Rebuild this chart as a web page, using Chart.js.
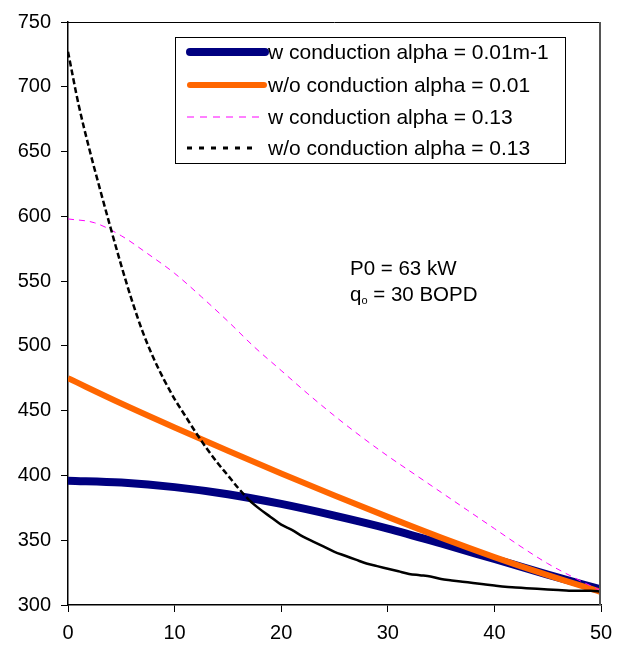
<!DOCTYPE html>
<html>
<head>
<meta charset="utf-8">
<script src="https://cdn.jsdelivr.net/npm/chart.js@4/dist/chart.umd.min.js"></script>
<style>
html,body{margin:0;padding:0;background:#fff;}
#wrap{width:629px;height:650px;position:relative;}
</style>
</head>
<body>
<div id="wrap"><canvas id="c" width="629" height="650"></canvas></div>
<script>
// ---- data ----
const xNavy = [0,5,10,15,20,25,30,35,40,45,50];
const yNavy = [396,394.5,391,385.5,378,369,359,347.5,335.5,323.5,312];

const xOrange = [0,5,10,15,20,25,30,35,40,45,50];
const yOrange = [475,455.5,437,419,401.5,384.5,368,352,337,323,310];

const xMagenta = [0,2.5,5,7.5,10,12.5,15,17.5,20,22.5,25,27.5,30,32.5,35,37.5,40,42.5,45,47.5,50];
const yMagenta = [598,595,585,571,556,538,519,499,481,463,446,430,415,401,387,373,359,345,332,321,311];

const xBlack = [0,1,2,3,4,5,6,7,8,9,10,11,12,13,14,15,16,17,18,19,20,21,22,23,24,25,26,27,28,29,30,31,32,33,34,35,36,37,38,39,40,41,42,43,44,45,46,47,48,49,50];
const yBlack = [727,686,652,621,591,562,535,511,491,474,459,446,433,421,410,400,390,381,374,368,362,358,353,349,345,341,338,335,332,330,328,326,324,323,322,320,319,318,317,316,315,314,313.5,313,312.5,312,311.5,311,311,311,310.5];

const seriesLabels = [
  "w conduction alpha = 0.01m-1",
  "w/o conduction alpha = 0.01",
  "w conduction alpha = 0.13",
  "w/o conduction alpha = 0.13"
];
const xTicks = [0,10,20,30,40,50];
const yTicks = [300,350,400,450,500,550,600,650,700,750];
const noteLine1 = "P0 = 63 kW";
const noteQ = "q";
const noteSub = "o";
const noteRest = " = 30 BOPD";

function pts(xs, ys){ return xs.map((x,i)=>({x:x,y:ys[i]})); }

const FONT = "'Liberation Sans', Arial, Helvetica, sans-serif";

const legendStyles = [
  {color:'#000080', width:8, dash:[], cap:'round', x2:265},
  {color:'#FF6600', width:6, dash:[], cap:'round', x2:264},
  {color:'#FF00FF', width:1, dash:[7,6], cap:'butt', x2:261},
  {color:'#000000', width:3, dash:[5,7], cap:'butt', x2:258}
];

const decor = {
  id:'decor',
  afterDatasetsDraw(chart){
    const ctx = chart.ctx;
    const a = chart.chartArea;
    ctx.save();
    // top and right frame
    ctx.strokeStyle = '#000';
    ctx.lineWidth = 1;
    ctx.beginPath();
    ctx.moveTo(a.left, a.top+0.5);
    ctx.lineTo(a.right, a.top+0.5);
    ctx.stroke();
    ctx.strokeStyle = '#555';
    ctx.lineWidth = 2;
    ctx.beginPath();
    ctx.moveTo(a.right-1, a.top);
    ctx.lineTo(a.right-1, a.bottom);
    ctx.stroke();

    // legend box
    const lx = 175, ly = 37, lw = 390, lh = 126;
    ctx.fillStyle = '#fff';
    ctx.fillRect(lx, ly, lw, lh);
    ctx.strokeStyle = '#000';
    ctx.lineWidth = 1;
    ctx.strokeRect(lx+0.5, ly+0.5, lw, lh);
    const rows = [52, 85, 117, 148];
    ctx.font = "21px " + FONT;
    ctx.textBaseline = 'middle';
    ctx.textAlign = 'left';
    chart.data.datasets.forEach((ds, i) => {
      const s = legendStyles[i];
      ctx.strokeStyle = s.color;
      ctx.lineWidth = s.width;
      ctx.lineCap = s.cap;
      ctx.setLineDash(s.dash);
      ctx.beginPath();
      ctx.moveTo(s.cap === 'round' ? 190 : 187, rows[i]);
      ctx.lineTo(s.x2, rows[i]);
      ctx.stroke();
      ctx.setLineDash([]);
      ctx.fillStyle = '#000';
      ctx.fillText(ds.label, 268, rows[i]+1);
    });

    // annotation
    ctx.font = "20.5px " + FONT;
    ctx.fillStyle = '#000';
    ctx.textBaseline = 'alphabetic';
    ctx.fillText(noteLine1, 350, 275);
    let x = 350;
    ctx.fillText(noteQ, x, 301);
    x += ctx.measureText(noteQ).width;
    ctx.font = "11px " + FONT;
    ctx.fillText(noteSub, x, 304);
    x += ctx.measureText(noteSub).width;
    ctx.font = "20.5px " + FONT;
    ctx.fillText(noteRest, x, 301);
    ctx.restore();
  }
};

new Chart(document.getElementById('c'), {
  type:'line',
  data:{
    datasets:[
      {label:seriesLabels[0], data:pts(xNavy,yNavy), borderColor:'#000080', borderWidth:8, pointRadius:0, cubicInterpolationMode:'monotone', borderCapStyle:'butt', order:4},
      {label:seriesLabels[1], data:pts(xOrange,yOrange), borderColor:'#FF6600', borderWidth:6, pointRadius:0, cubicInterpolationMode:'monotone', borderCapStyle:'butt', order:3},
      {label:seriesLabels[2], data:pts(xMagenta,yMagenta), borderColor:'#FF00FF', borderWidth:1, borderDash:[6,5], pointRadius:0, cubicInterpolationMode:'monotone', order:2},
      {label:seriesLabels[3], data:pts(xBlack,yBlack), borderColor:'#000000', borderWidth:2.5, pointRadius:0, cubicInterpolationMode:'monotone', order:1,
        segment:{ borderDash: c => (c.p0.parsed.x < 17 ? [6,3] : undefined) }}
    ]
  },
  options:{
    responsive:false,
    animation:false,
    layout:{padding:{left:0, top:18, right:28, bottom:0}},
    plugins:{legend:{display:false}, tooltip:{enabled:false}},
    scales:{
      x:{
        type:'linear', min:0, max:50,
        afterBuildTicks(s){ s.ticks = xTicks.map(v=>({value:v})); },
        afterFit(s){ s.height = 45; },
        grid:{drawOnChartArea:false, drawTicks:true, tickLength:7, color:'#000', tickColor:'#000'},
        border:{color:'#000', width:1.5},
        ticks:{color:'#000', font:{family:FONT, size:20}, padding:9, maxRotation:0}
      },
      y:{
        type:'linear', min:300, max:750,
        afterBuildTicks(s){ s.ticks = yTicks.map(v=>({value:v})); },
        afterFit(s){ s.width = 68; },
        grid:{drawOnChartArea:false, drawTicks:true, tickLength:7, color:'#000', tickColor:'#000'},
        border:{color:'#000', width:1.5},
        ticks:{color:'#000', font:{family:FONT, size:20}, padding:10}
      }
    }
  },
  plugins:[decor]
});
</script>
</body>
</html>
